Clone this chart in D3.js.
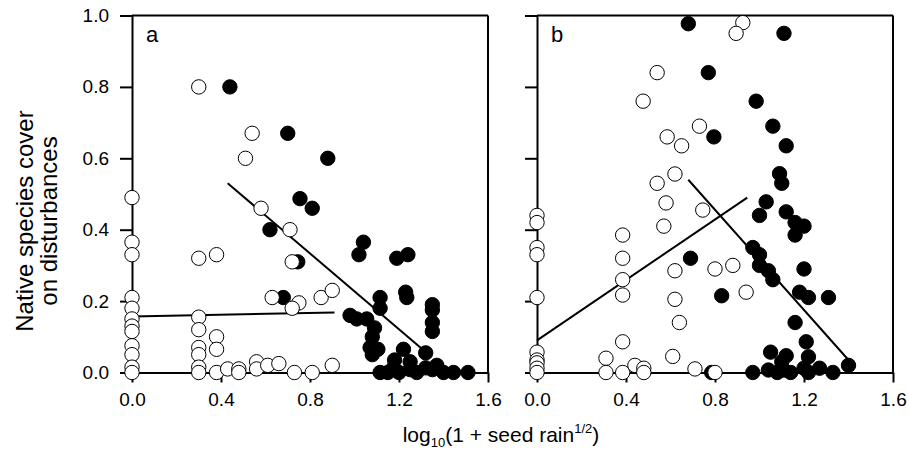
<!DOCTYPE html>
<html>
<head>
<meta charset="utf-8">
<script src="https://cdn.jsdelivr.net/npm/d3@7"></script>
<style>
  html, body { margin: 0; padding: 0; background: #fff; }
  svg text { font-family: "Liberation Sans", Arial, Helvetica, sans-serif; fill: #000; }
</style>
</head>
<body>
<svg id="chart" width="909" height="451"></svg>
<script>
// ---------- data ----------
const xTicks = [0.0, 0.4, 0.8, 1.2, 1.6];
const yTicks = [0.0, 0.2, 0.4, 0.6, 0.8, 1.0];
const panelLabels = ["a", "b"];

// Panel a, open circles
const aOpenX = [0,0,0,0,0,0,0,0,0,0,0,0,
  0.30,0.30,0.30,0.30,0.30,0.30,0.30,0.30,
  0.38,0.38,0.38,0.38,
  0.43,0.48,0.48,0.56,0.56,0.61,0.66,0.73,0.81,0.90,
  0.54,0.51,0.58,0.71,0.72,0.63,0.75,0.72,0.85,0.90];
const aOpenY = [0.49,0.365,0.33,0.21,0.18,0.15,0.13,0.115,0.075,0.05,0.015,0.0,
  0.80,0.32,0.155,0.12,0.07,0.05,0.015,0.0,
  0.33,0.10,0.065,0.0,
  0.01,0.01,0.0,0.03,0.01,0.02,0.025,0.0,0.0,0.02,
  0.67,0.60,0.46,0.40,0.31,0.21,0.195,0.18,0.21,0.23];

// Panel a, filled circles
const aFillX = [0.44,0.70,0.88,0.755,0.81,0.62,0.745,0.68,
  1.04,1.02,1.19,1.24,1.115,1.115,1.23,1.235,1.35,1.35,1.35,1.35,
  0.98,1.01,1.055,1.09,1.08,1.07,1.105,1.08,1.22,1.32,1.18,
  1.115,1.15,1.175,1.20,1.25,1.25,1.28,1.32,1.35,1.37,1.40,1.445,1.51];
const aFillY = [0.80,0.67,0.60,0.487,0.46,0.40,0.31,0.21,
  0.365,0.33,0.32,0.33,0.21,0.18,0.225,0.21,0.19,0.175,0.14,0.115,
  0.16,0.15,0.15,0.125,0.10,0.07,0.065,0.05,0.065,0.055,0.035,
  0.0,0.0,0.013,0.0,0.008,0.03,0.0,0.013,0.008,0.02,0.0,0.0,0.0];

// Panel b, open circles
const bOpenX = [0,0,0,0,0,0,0,0,0,0,
  0.31,0.31,0.385,0.385,0.385,0.385,0.385,0.385,
  0.44,0.48,0.48,0.61,0.71,
  0.58,0.745,0.57,0.62,0.62,0.64,0.80,
  0.54,0.477,0.73,0.585,0.65,0.62,0.54,
  0.925,0.895,0.88,0.94,0.80];
const bOpenY = [0.44,0.42,0.35,0.33,0.21,0.057,0.035,0.027,0.012,0.0,
  0.04,0.0,0.385,0.32,0.26,0.217,0.086,0.0,
  0.02,0.012,0.0,0.045,0.01,
  0.475,0.455,0.41,0.285,0.205,0.14,0.29,
  0.84,0.76,0.69,0.66,0.635,0.556,0.53,
  0.98,0.95,0.30,0.225,0.0];

// Panel b, filled circles
const bFillX = [0.68,0.77,1.11,0.985,1.06,1.12,1.09,1.10,0.795,
  1.03,1.00,1.12,1.16,1.20,1.16,0.97,1.00,1.00,1.04,1.06,1.20,
  0.83,1.18,1.22,1.31,1.16,1.21,1.05,1.12,1.22,1.10,1.40,0.69,
  0.785,0.97,1.04,1.08,1.11,1.14,1.20,1.22,1.27,1.33];
const bFillY = [0.977,0.84,0.95,0.76,0.69,0.635,0.557,0.53,0.66,
  0.478,0.44,0.45,0.42,0.41,0.385,0.35,0.33,0.30,0.285,0.26,0.29,
  0.215,0.225,0.21,0.21,0.14,0.086,0.057,0.047,0.044,0.03,0.02,0.32,
  0.0,0.0,0.007,0.0,0.007,0.0,0.012,0.0,0.012,0.0];

// Regression line endpoints [x0, x1], [y0, y1]
const aOpenLineX = [0, 0.91],  aOpenLineY = [0.157, 0.168];
const aFillLineX = [0.43, 1.30], aFillLineY = [0.53, 0.068];
const bOpenLineX = [0, 0.945], bOpenLineY = [0.09, 0.49];
const bFillLineX = [0.68, 1.40], bFillLineY = [0.54, 0.035];

// ---------- layout ----------
const svg = d3.select("#chart");
const plotTop = 15.5, plotBottom = 372.5;
const panels = [
  { left: 132, right: 488, label: panelLabels[0], showY: true,
    openX: aOpenX, openY: aOpenY, fillX: aFillX, fillY: aFillY,
    lines: [[aOpenLineX, aOpenLineY], [aFillLineX, aFillLineY]] },
  { left: 537, right: 893, label: panelLabels[1], showY: false,
    openX: bOpenX, openY: bOpenY, fillX: bFillX, fillY: bFillY,
    lines: [[bOpenLineX, bOpenLineY], [bFillLineX, bFillLineY]] }
];

const y = d3.scaleLinear().domain([0, 1]).range([plotBottom, plotTop]);
const R = 7.2;
const FONT = '"Liberation Sans", Arial, sans-serif';

panels.forEach(p => {
  const x = d3.scaleLinear().domain([0, 1.6]).range([p.left, p.right]);
  const g = svg.append("g");

  // frame top and right
  g.append("line").attr("x1", p.left).attr("x2", p.right).attr("y1", plotTop).attr("y2", plotTop)
    .attr("stroke", "#000").attr("stroke-width", 2);
  g.append("line").attr("x1", p.right).attr("x2", p.right).attr("y1", plotTop).attr("y2", plotBottom)
    .attr("stroke", "#000").attr("stroke-width", 2);

  // axes
  const xAxis = d3.axisBottom(x).tickValues(xTicks).tickFormat(d3.format(".1f"))
    .tickSize(10).tickSizeOuter(0).tickPadding(10);
  const gx = g.append("g").attr("transform", `translate(0,${plotBottom})`).call(xAxis);
  gx.select(".domain").attr("stroke-width", 2);
  gx.selectAll(".tick line").attr("stroke-width", 2);
  gx.selectAll("text").attr("font-size", 19).style("font-family", FONT);

  const yAxis = d3.axisLeft(y).tickValues(yTicks)
    .tickFormat(p.showY ? d3.format(".1f") : () => "")
    .tickSize(12).tickSizeOuter(0).tickPadding(11);
  const gy = g.append("g").attr("transform", `translate(${p.left},0)`).call(yAxis);
  gy.select(".domain").attr("stroke-width", 2);
  gy.selectAll(".tick line").attr("stroke-width", 2);
  gy.selectAll("text").attr("font-size", 19).style("font-family", FONT);

  // regression lines
  p.lines.forEach(([lx, ly]) => {
    g.append("line")
      .attr("x1", x(lx[0])).attr("y1", y(ly[0]))
      .attr("x2", x(lx[1])).attr("y2", y(ly[1]))
      .attr("stroke", "#000").attr("stroke-width", 2);
  });

  // filled circles
  g.append("g").selectAll("circle").data(d3.range(p.fillX.length)).join("circle")
    .attr("cx", i => x(p.fillX[i])).attr("cy", i => y(p.fillY[i])).attr("r", R)
    .attr("fill", "#000").attr("stroke", "#000").attr("stroke-width", 1);

  // open circles
  g.append("g").selectAll("circle").data(d3.range(p.openX.length)).join("circle")
    .attr("cx", i => x(p.openX[i])).attr("cy", i => y(p.openY[i])).attr("r", R)
    .attr("fill", "#fff").attr("stroke", "#000").attr("stroke-width", 1);

  // panel label
  g.append("text").attr("x", p.left + 14).attr("y", 42)
    .attr("font-size", 22).text(p.label);
});

// y title
const yt = svg.append("text")
  .attr("transform", "translate(0,221) rotate(-90)")
  .attr("text-anchor", "middle").attr("font-size", 24);
yt.append("tspan").attr("x", 0).attr("y", 33).text("Native species cover");
yt.append("tspan").attr("x", 0).attr("y", 57).text("on disturbances");

// x title
const xt = svg.append("text").attr("x", 501).attr("y", 442)
  .attr("text-anchor", "middle").attr("font-size", 21);
xt.append("tspan").text("log");
xt.append("tspan").attr("font-size", 13).attr("dy", 5).text("10");
xt.append("tspan").attr("dy", -5).text("(1 + seed rain");
xt.append("tspan").attr("font-size", 13).attr("dy", -9).text("1/2");
xt.append("tspan").attr("dy", 9).text(")");
</script>
</body>
</html>
